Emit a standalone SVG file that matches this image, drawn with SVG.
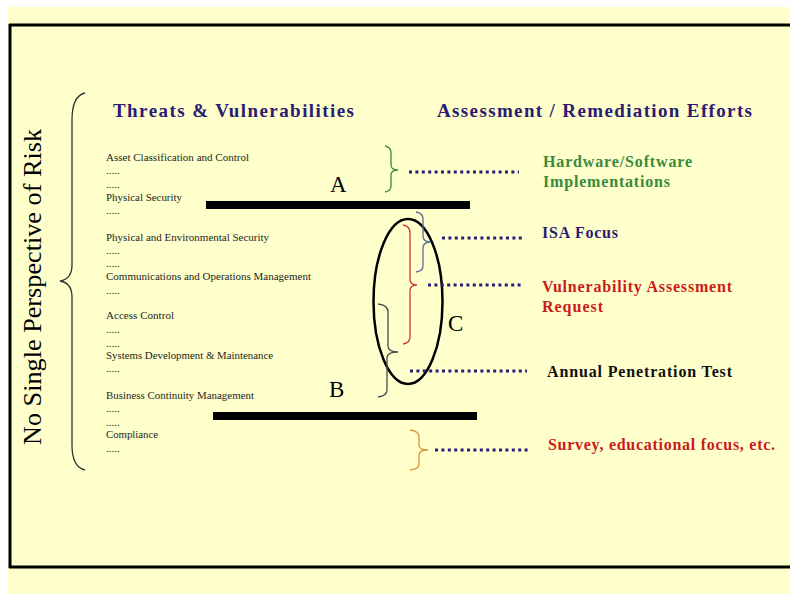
<svg xmlns="http://www.w3.org/2000/svg" width="790" height="594" viewBox="0 0 790 594">
<style>
.frame{stroke:#000;stroke-width:3;fill:none}
.bar{fill:#000}
.side{font-family:"Liberation Serif","DejaVu Serif",serif;font-size:26px;fill:#000}
.lst{font-family:"Liberation Serif","DejaVu Serif",serif;font-size:11px;fill:#1a261a}
.hdr{font-family:"Liberation Serif","DejaVu Serif",serif;font-size:19px;font-weight:bold;fill:#2b1b73}
.lbl{font-family:"Liberation Serif","DejaVu Serif",serif;font-size:16px;font-weight:bold}
.let{font-family:"Liberation Serif","DejaVu Serif",serif;font-size:23px;fill:#000}
.brace{fill:none;stroke-width:1.3}
.dots{fill:none;stroke:#2a1a7a;stroke-width:3;stroke-dasharray:3 3.4}
</style>
<rect x="0" y="0" width="790" height="594" fill="#fff"/>
<rect x="8" y="7" width="782" height="587" fill="#ffffcc"/>
<g id="frame">
<line class="frame" x1="9" y1="25" x2="790" y2="25"/>
<line class="frame" x1="10" y1="24" x2="10" y2="568"/>
<line class="frame" x1="9" y1="567" x2="790" y2="567"/>
</g>
<g id="side-title">
<text class="side" x="41" y="445" transform="rotate(-90 41 445)" textLength="316" lengthAdjust="spacingAndGlyphs">No Single Perspective of Risk</text>
<path class="brace" stroke="#333" d="M85,93 Q72,96 72,120 L72,265 Q72,279 60,281 Q72,283 72,297 L72,445 Q72,467 85,470"/>
</g>
<g id="headers">
<text class="hdr" x="113" y="117" textLength="241" lengthAdjust="spacing">Threats &amp; Vulnerabilities</text>
<text class="hdr" x="437" y="117" textLength="315" lengthAdjust="spacing">Assessment / Remediation Efforts</text>
</g>
<g id="threat-list">
<text class="lst" x="106" y="161" textLength="143" lengthAdjust="spacingAndGlyphs">Asset Classification and Control</text>
<text class="lst" x="106" y="174">.....</text>
<text class="lst" x="106" y="188">.....</text>
<text class="lst" x="106" y="201" textLength="76" lengthAdjust="spacingAndGlyphs">Physical Security</text>
<text class="lst" x="106" y="214">.....</text>
<text class="lst" x="106" y="241" textLength="163" lengthAdjust="spacingAndGlyphs">Physical and Environmental Security</text>
<text class="lst" x="106" y="254">.....</text>
<text class="lst" x="106" y="267">.....</text>
<text class="lst" x="106" y="280" textLength="205" lengthAdjust="spacingAndGlyphs">Communications and Operations Management</text>
<text class="lst" x="106" y="294">.....</text>
<text class="lst" x="106" y="319" textLength="68" lengthAdjust="spacingAndGlyphs">Access Control</text>
<text class="lst" x="106" y="333">.....</text>
<text class="lst" x="106" y="347">.....</text>
<text class="lst" x="106" y="359" textLength="167" lengthAdjust="spacingAndGlyphs">Systems Development &amp; Maintenance</text>
<text class="lst" x="106" y="372">.....</text>
<text class="lst" x="106" y="399" textLength="148" lengthAdjust="spacingAndGlyphs">Business Continuity Management</text>
<text class="lst" x="106" y="412">.....</text>
<text class="lst" x="106" y="426">.....</text>
<text class="lst" x="106" y="438" textLength="52" lengthAdjust="spacingAndGlyphs">Compliance</text>
<text class="lst" x="106" y="452">.....</text>
</g>
<g id="bar-A">
<rect class="bar" x="206" y="201" width="264" height="8"/>
<text class="let" x="330" y="192">A</text>
</g>
<g id="bar-B">
<rect class="bar" x="213" y="412" width="264" height="8"/>
<text class="let" x="329" y="397">B</text>
</g>
<g id="group-C">
<ellipse cx="408" cy="301.5" rx="34.5" ry="82.5" fill="none" stroke="#000" stroke-width="2.5"/>
<text class="let" x="448" y="331">C</text>
</g>
<g id="braces">
<path class="brace" stroke="#3a8a3a" d="M385,146 Q391,147 391,153 L391,165 Q391,170 398,170 Q391,170 391,175 L391,186 Q391,191 385,192"/>
<path class="brace" stroke="#5a6a9a" d="M416,212 Q423,213 423,219 L423,236 Q423,242 431,242 Q423,242 423,248 L423,266 Q423,271 416,272"/>
<path class="brace" stroke="#d03a2a" d="M403,225 Q410,226 410,233 L410,279 Q410,285 417,285 Q410,285 410,291 L410,337 Q410,343 403,344"/>
<path class="brace" stroke="#4a4a4a" d="M378,304 Q388,305 388,312 L388,346 Q388,352 398,352 Q387,352 387,358 L387,390 Q387,396 378,397"/>
<path class="brace" stroke="#e0903a" d="M410,430 Q419,431 419,437 L419,445 Q419,450 428,450 Q419,450 419,455 L419,464 Q419,469 410,470"/>
</g>
<g id="connectors">
<line class="dots" x1="409" y1="172" x2="519" y2="172"/>
<line class="dots" x1="442" y1="238" x2="522" y2="238"/>
<line class="dots" x1="428" y1="285" x2="522" y2="285"/>
<line class="dots" x1="410" y1="371" x2="527" y2="371"/>
<line class="dots" x1="435" y1="450" x2="528" y2="450"/>
</g>
<g id="label-hw">
<text class="lbl" fill="#3a8a3a" x="543" y="167" textLength="149" lengthAdjust="spacing">Hardware/Software</text>
<text class="lbl" fill="#3a8a3a" x="543" y="187" textLength="127" lengthAdjust="spacing">Implementations</text>
</g>
<g id="label-isa">
<text class="lbl" fill="#2b1b73" x="542" y="238" textLength="76" lengthAdjust="spacing">ISA Focus</text>
</g>
<g id="label-va">
<text class="lbl" fill="#cc1a1a" x="542" y="292" textLength="190" lengthAdjust="spacing">Vulnerability Assessment</text>
<text class="lbl" fill="#cc1a1a" x="542" y="312" textLength="61" lengthAdjust="spacing">Request</text>
</g>
<g id="label-pt">
<text class="lbl" fill="#111" x="547" y="377" textLength="185" lengthAdjust="spacing">Annual Penetration Test</text>
</g>
<g id="label-survey">
<text class="lbl" fill="#cc1a1a" x="548" y="450" textLength="227" lengthAdjust="spacing">Survey, educational focus, etc.</text>
</g>
</svg>
